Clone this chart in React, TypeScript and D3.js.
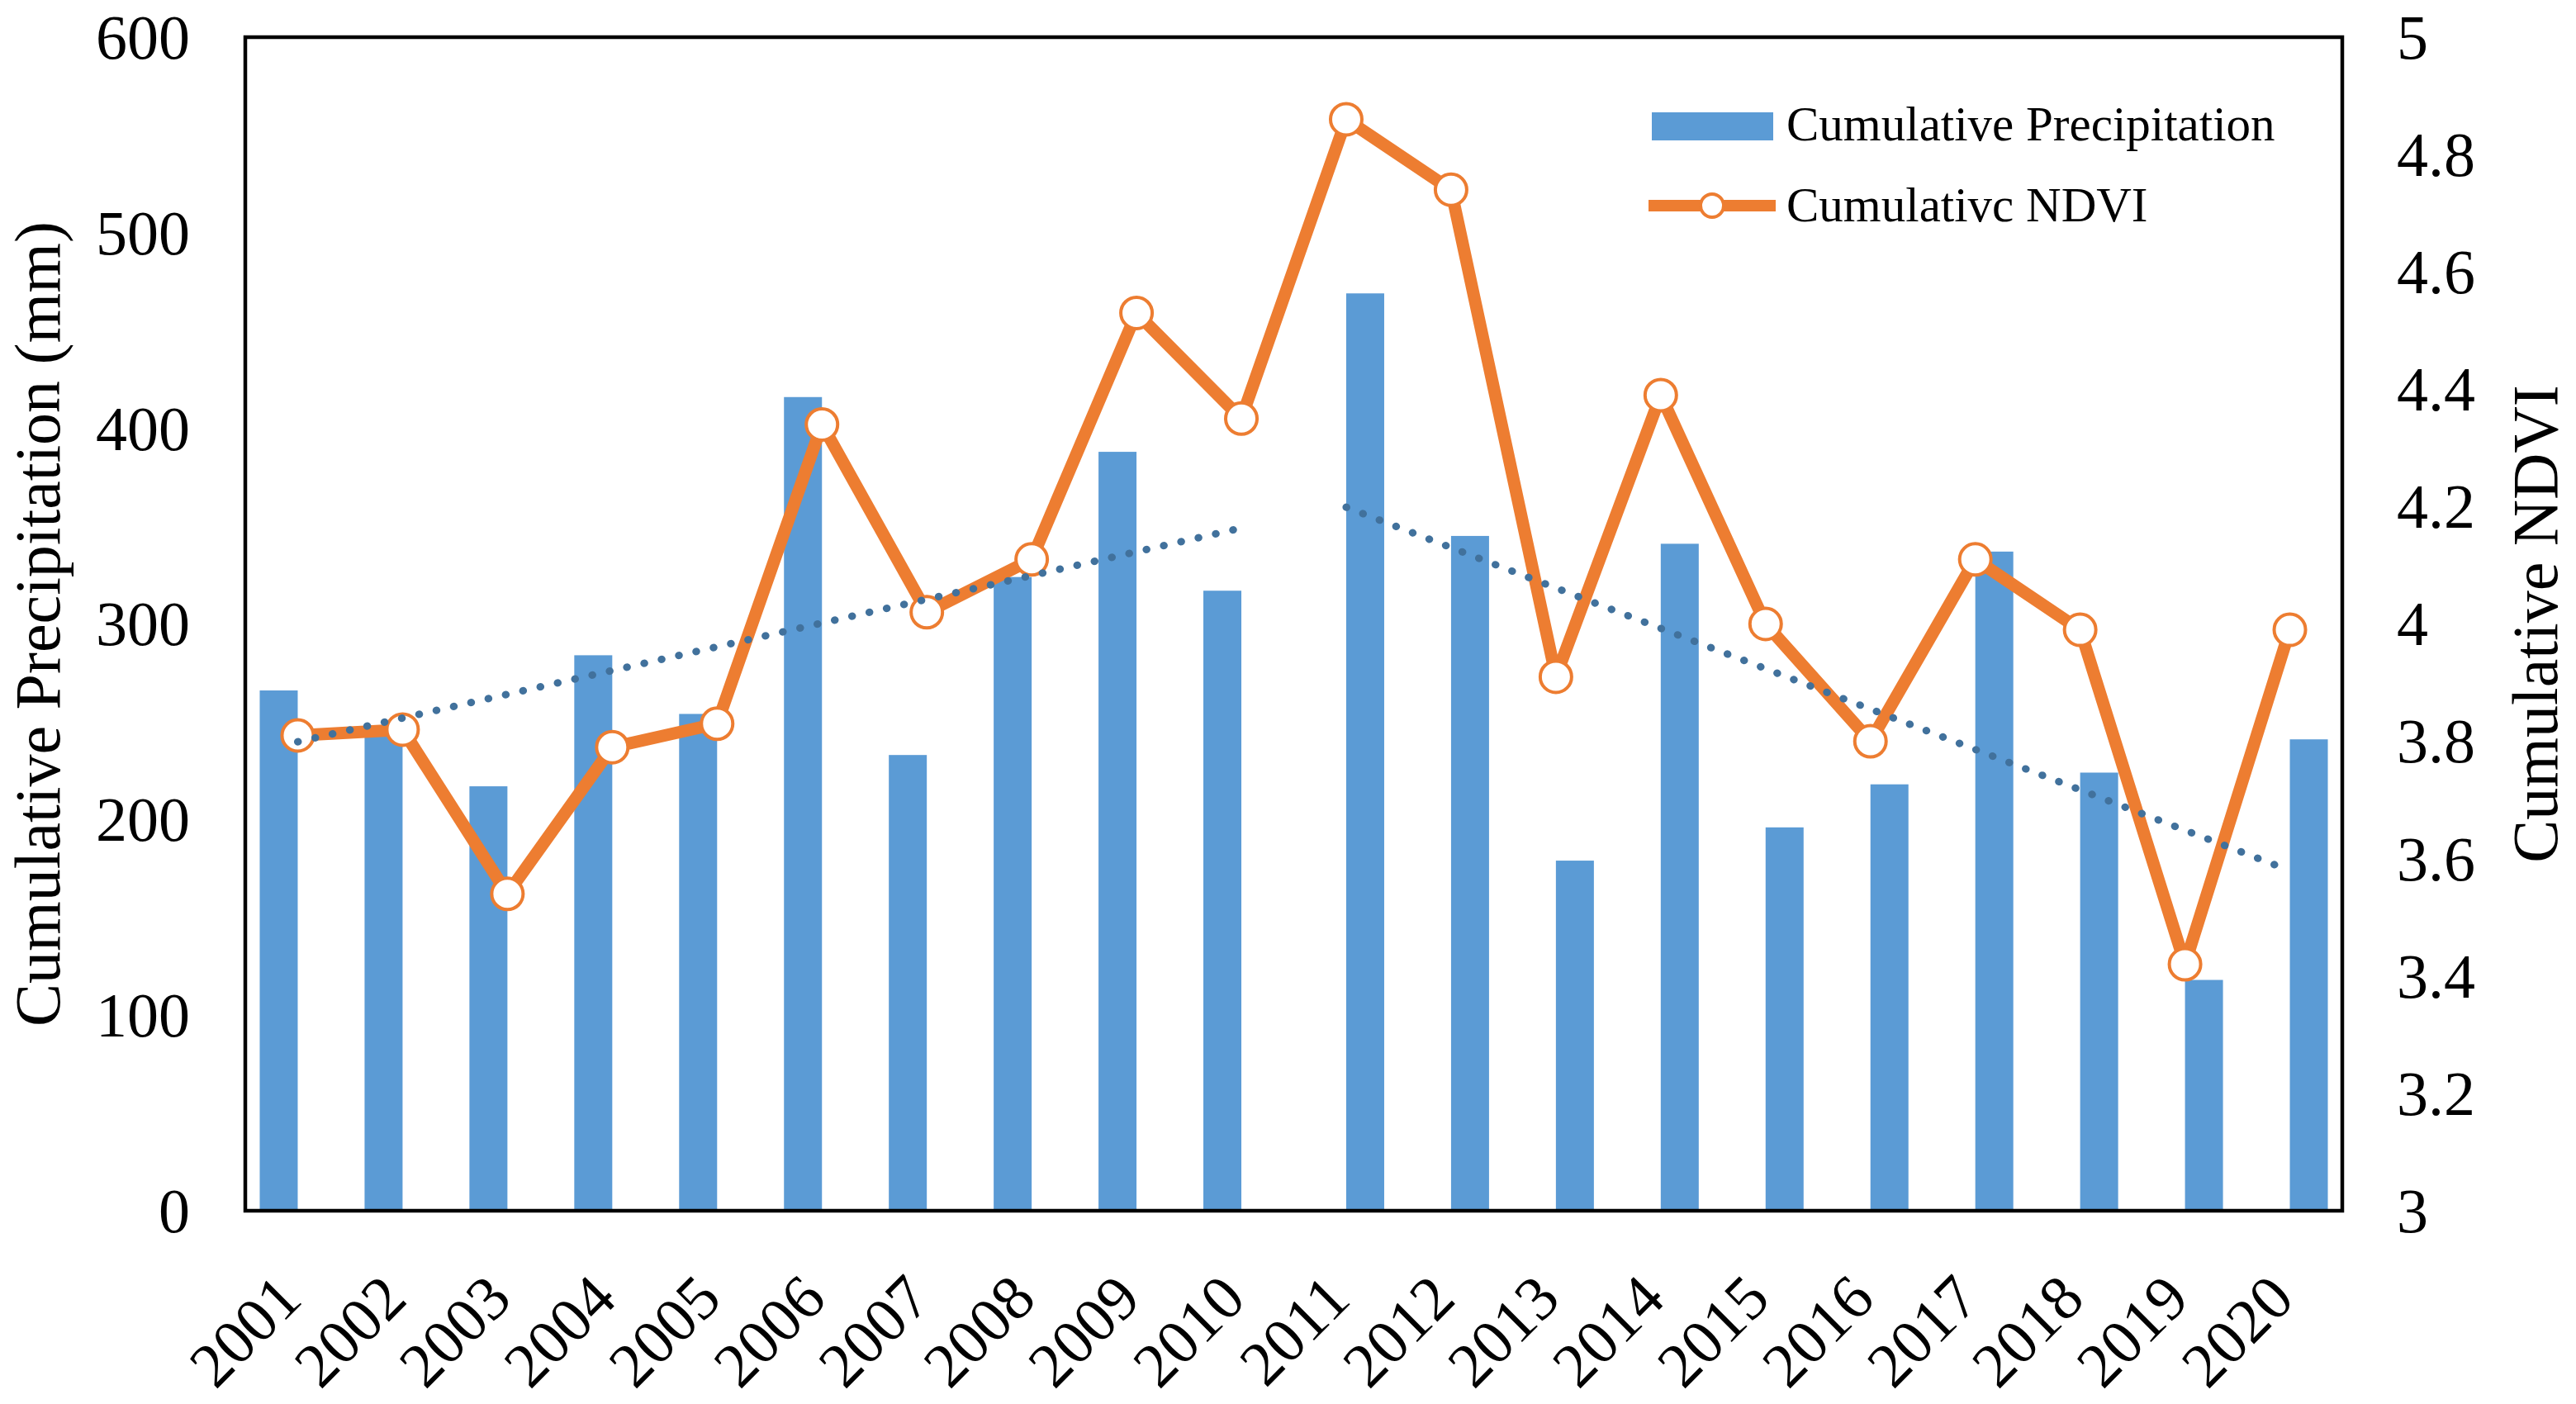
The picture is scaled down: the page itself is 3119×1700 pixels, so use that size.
import * as d3 from "d3";
import { useEffect, useRef } from "react";

// values
const years = [
    "2001", "2002", "2003", "2004", "2005", "2006", "2007", "2008", "2009", "2010",
    "2011", "2012", "2013", "2014", "2015", "2016", "2017", "2018", "2019", "2020",
];
const precipitation = [266, 245, 217, 284, 254, 416, 233, 324, 388, 317, 469, 345, 179, 341, 196, 218, 337, 224, 118, 241];
const ndvi = [3.81, 3.82, 3.54, 3.79, 3.83, 4.34, 4.02, 4.11, 4.53, 4.35, 4.86, 4.74, 3.91, 4.39, 4.0, 3.8, 4.11, 3.99, 3.42, 3.99];
// the bars are split in two periods, each with its own trend line
const periods = [
    { key: "first", from: "2001", to: "2010" },
    { key: "second", from: "2011", to: "2020" },
];
const precipTicks = [0, 100, 200, 300, 400, 500, 600];
const ndviTicks = [3, 3.2, 3.4, 3.6, 3.8, 4, 4.2, 4.4, 4.6, 4.8, 5];
const legendLabels = ["Cumulative Precipitation", "Cumulativc NDVI"];

const WIDTH = 3119;
const HEIGHT = 1700;
const FONT = "'Liberation Serif', 'Times New Roman', serif";
const BAR = "#5B9BD5";
const ORANGE = "#ED7D31";
const TREND = "#41719C";

// ordinary least squares, returns the fitted function
function linearFit(xs: number[], ys: number[]) {
    const mx = d3.mean(xs) as number;
    const my = d3.mean(ys) as number;
    const sxy = d3.sum(xs, (x, i) => (x - mx) * (ys[i] - my));
    const sxx = d3.sum(xs, (x) => (x - mx) ** 2);
    const slope = sxy / sxx;
    return (x: number) => my + slope * (x - mx);
}

const App = () => {
    const svgRef = useRef<SVGSVGElement | null>(null);

    useEffect(() => {
        const svg = d3.select(svgRef.current);
        svg.selectAll("*").remove();

        const left = 297, right = 2836, top = 45, bottom = 1466;

        const x = d3.scaleBand<string>().domain(years).range([left, right]).padding(0);
        const inner = d3
            .scaleBand<string>()
            .domain(periods.map((p) => p.key))
            .range([0, x.bandwidth()])
            .paddingInner(0)
            .paddingOuter(0.38);
        const yLeft = d3.scaleLinear().domain([0, 600]).range([bottom, top]);
        const yRight = d3.scaleLinear().domain([3, 5]).range([bottom, top]);
        const cx = (yr: string) => (x(yr) as number) + x.bandwidth() / 2;

        const periodOf = (yr: string) =>
            periods.find((p) => yr >= p.from && yr <= p.to)!.key;

        // bars
        svg.append("g")
            .selectAll("rect")
            .data(years)
            .join("rect")
            .attr("x", (d) => (x(d) as number) + (inner(periodOf(d)) as number))
            .attr("y", (_, i) => yLeft(precipitation[i]))
            .attr("width", inner.bandwidth())
            .attr("height", (_, i) => bottom - yLeft(precipitation[i]))
            .attr("fill", BAR);

        // NDVI line
        const line = d3
            .line<number>()
            .x((_, i) => cx(years[i]))
            .y((d) => yRight(d));
        svg.append("path")
            .datum(ndvi)
            .attr("d", line)
            .attr("fill", "none")
            .attr("stroke", ORANGE)
            .attr("stroke-width", 15)
            .attr("stroke-linejoin", "round");

        svg.append("g")
            .selectAll("circle")
            .data(ndvi)
            .join("circle")
            .attr("cx", (_, i) => cx(years[i]))
            .attr("cy", (d) => yRight(d))
            .attr("r", 19)
            .attr("fill", "white")
            .attr("stroke", ORANGE)
            .attr("stroke-width", 4);

        // dotted linear trend of precipitation for each period
        periods.forEach((p) => {
            const idx = years.map((_, i) => i).filter((i) => periodOf(years[i]) === p.key);
            const fit = linearFit(idx.map((i) => i), idx.map((i) => precipitation[i]));
            const ends = [idx[0], idx[idx.length - 1]];
            svg.append("path")
                .datum(ends)
                .attr(
                    "d",
                    d3
                        .line<number>()
                        .x((i) => cx(years[i]))
                        .y((i) => yLeft(fit(i)))
                )
                .attr("stroke", TREND)
                .attr("stroke-width", 9)
                .attr("stroke-linecap", "round")
                .attr("stroke-dasharray", "0.5 21");
        });

        // plot frame
        svg.append("rect")
            .attr("x", left)
            .attr("y", top)
            .attr("width", right - left)
            .attr("height", bottom - top)
            .attr("fill", "none")
            .attr("stroke", "black")
            .attr("stroke-width", 4.5);

        const text = svg.append("g").attr("font-family", FONT).attr("fill", "black");

        // left ticks
        text.append("g")
            .selectAll("text")
            .data(precipTicks)
            .join("text")
            .attr("x", 230)
            .attr("y", (d) => yLeft(d))
            .attr("dy", "0.34em")
            .attr("text-anchor", "end")
            .attr("font-size", 76)
            .text((d) => d);

        // right ticks
        text.append("g")
            .selectAll("text")
            .data(ndviTicks)
            .join("text")
            .attr("x", 2902)
            .attr("y", (d) => yRight(d))
            .attr("dy", "0.34em")
            .attr("font-size", 76)
            .text((d) => String(+d.toFixed(1)));

        // year labels
        text.append("g")
            .selectAll("text")
            .data(years)
            .join("text")
            .attr("transform", (d) => `translate(${cx(d) + 8}, 1576) rotate(-45)`)
            .attr("text-anchor", "end")
            .attr("font-size", 76)
            .text((d) => d);

        // axis titles
        text.append("text")
            .attr("transform", `translate(72, ${(top + bottom) / 2}) rotate(-90)`)
            .attr("text-anchor", "middle")
            .attr("font-size", 78)
            .text("Cumulative Precipitation (mm)");
        text.append("text")
            .attr("transform", `translate(3096, ${(top + bottom) / 2}) rotate(-90)`)
            .attr("text-anchor", "middle")
            .attr("font-size", 78)
            .text("Cumulative NDVI");

        // legend
        const legend = svg.append("g");
        legend.append("rect")
            .attr("x", 2000)
            .attr("y", 136)
            .attr("width", 147)
            .attr("height", 34)
            .attr("fill", BAR);
        legend.append("line")
            .attr("x1", 1996)
            .attr("x2", 2150)
            .attr("y1", 249)
            .attr("y2", 249)
            .attr("stroke", ORANGE)
            .attr("stroke-width", 14);
        legend.append("circle")
            .attr("cx", 2073)
            .attr("cy", 249)
            .attr("r", 14)
            .attr("fill", "white")
            .attr("stroke", ORANGE)
            .attr("stroke-width", 4);
        legend.selectAll("text")
            .data(legendLabels)
            .join("text")
            .attr("x", 2163)
            .attr("y", (_, i) => (i === 0 ? 170 : 268))
            .attr("font-family", FONT)
            .attr("font-size", 59)
            .text((d) => d);
    }, []);

    return (
        <div style={{ position: "absolute", left: 0, top: 0 }}>
            <svg ref={svgRef} width={WIDTH} height={HEIGHT} style={{ display: "block", background: "white" }}></svg>
        </div>
    );
};

export default App;
